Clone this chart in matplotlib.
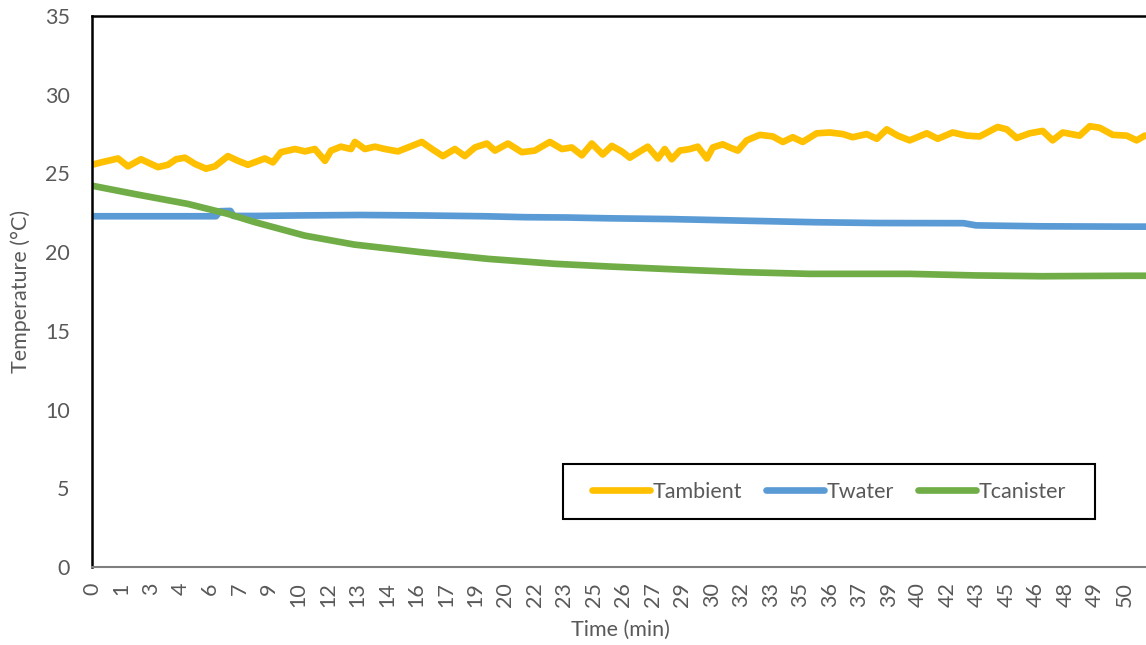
import matplotlib
matplotlib.use("Agg")
import matplotlib.pyplot as plt
from matplotlib.patches import Rectangle

plt.rcParams['font.family'] = ['Lato', 'DejaVu Sans']

# time (min) and temperatures
t_amb = [0, 0.44, 1.26, 1.74, 2.37, 3.19, 3.68, 4.07, 4.5, 4.99, 5.52, 5.95, 6.58, 7.07, 7.55, 8.37, 8.76,
         9.15, 9.83, 10.31, 10.79, 11.28, 11.57, 12.05, 12.54, 12.73, 13.21, 13.7, 14.18, 14.81, 15.3, 15.97,
         16.46, 16.99, 17.57, 18.05, 18.54, 19.12, 19.51, 20.14, 20.81, 21.44, 22.17, 22.75, 23.23, 23.72,
         24.2, 24.73, 25.17, 25.65, 26.04, 26.53, 26.91, 27.4, 27.73, 28.07, 28.46, 28.95, 29.33, 29.77,
         30.06, 30.54, 30.88, 31.27, 31.7, 32.33, 32.96, 33.45, 33.93, 34.41, 35.09, 35.72, 36.35, 36.83,
         37.51, 38.0, 38.48, 39.01, 39.59, 40.42, 40.95, 41.67, 42.35, 42.98, 43.85, 44.29, 44.77, 45.4,
         46.03, 46.51, 47.0, 47.82, 48.31, 48.79, 49.42, 50.1, 50.58, 50.97, 51.5]
T_ambient = [25.55, 25.7, 25.95, 25.45, 25.9, 25.4, 25.55, 25.9, 26.0, 25.6, 25.3, 25.45, 26.1, 25.8, 25.55,
             25.95, 25.7, 26.35, 26.55, 26.4, 26.55, 25.8, 26.45, 26.7, 26.55, 27.0, 26.55, 26.7, 26.55, 26.4,
             26.65, 27.0, 26.55, 26.1, 26.55, 26.1, 26.65, 26.9, 26.45, 26.9, 26.35, 26.45, 27.0, 26.55, 26.65,
             26.15, 26.9, 26.2, 26.75, 26.4, 26.0, 26.4, 26.7, 25.95, 26.55, 25.9, 26.45, 26.55, 26.7, 25.95,
             26.65, 26.85, 26.65, 26.45, 27.1, 27.45, 27.35, 27.0, 27.3, 27.0, 27.55, 27.6, 27.5, 27.3, 27.5,
             27.2, 27.8, 27.4, 27.1, 27.55, 27.2, 27.6, 27.4, 27.35, 27.95, 27.8, 27.25, 27.55, 27.7, 27.1,
             27.6, 27.4, 28.0, 27.9, 27.45, 27.4, 27.1, 27.4, 27.3]

t_wat = [0, 3, 6.0, 6.2, 6.7, 6.85, 8, 10, 13, 16, 19, 21, 23, 25, 28, 31.5, 35, 38, 42.2, 42.8, 46, 50.2, 51.5]
T_water = [22.28, 22.28, 22.28, 22.6, 22.62, 22.3, 22.3, 22.33, 22.36, 22.33, 22.28, 22.22, 22.2, 22.15,
           22.1, 22.0, 21.9, 21.85, 21.84, 21.7, 21.64, 21.62, 21.62]

t_can = [0, 2.23, 4.65, 6.58, 7.9, 10.3, 12.7, 15.9, 19.2, 22.4, 25.0, 28.3, 31.5, 34.75, 39.6, 42.8, 46, 50.2, 51.5]
T_canister = [24.22, 23.65, 23.06, 22.43, 21.9, 21.05, 20.48, 20.0, 19.57, 19.26, 19.09, 18.9, 18.73, 18.62,
              18.62, 18.52, 18.47, 18.5, 18.5]

xlabels = ['0', '1', '3', '4', '6', '7', '9', '10', '12', '13', '14', '16', '17', '19', '20', '22', '23', '25',
           '26', '27', '29', '30', '32', '33', '35', '36', '37', '39', '40', '42', '43', '45', '46', '48', '49', '50']

grey = '#595959'
fs = 15.5

fig = plt.figure(figsize=(11.46, 6.45), dpi=100)
W, H = 1146.0, 645.0
# plot area runs past the right edge of the picture, like the original crop
ax = fig.add_axes([92 / W, 78 / H, 1074 / W, 551 / H])

ax.plot(t_amb, T_ambient, color='#FFC000', lw=4.8, solid_capstyle='round', label='Tambient')
ax.plot(t_wat, T_water, color='#5B9BD5', lw=4.8, solid_capstyle='round', label='Twater')
ax.plot(t_can, T_canister, color='#70AD47', lw=4.8, solid_capstyle='round', label='Tcanister')

ax.set_xlim(0, 52)
ax.set_ylim(0, 35)
ax.set_yticks(range(0, 36, 5))
step = 50.0 / (len(xlabels) - 1)
ax.set_xticks([i * step for i in range(len(xlabels))])
ax.set_xticklabels(xlabels, rotation=90, va='top')
ax.tick_params(axis='y', length=0, pad=16, labelsize=fs, labelcolor=grey)
ax.tick_params(axis='x', length=0, pad=11, labelsize=fs, labelcolor=grey)

for s in ['left', 'top']:
    ax.spines[s].set_color('black')
    ax.spines[s].set_linewidth(1.8)
ax.spines['right'].set_visible(False)
ax.spines['bottom'].set_color('#7f7f7f')
ax.spines['bottom'].set_linewidth(1.5)

ax.set_ylabel('Temperature (°C)', fontsize=fs, color=grey)
ax.yaxis.set_label_coords((31 - 92) / 1074, 0.5)
ax.set_xlabel('Time (min)', fontsize=fs, color=grey)
ax.xaxis.set_label_coords((620 - 92) / 1074, (567 - 620) / 551)

# legend box
fig.patches.append(Rectangle((563 / W, (645 - 519) / H), 532 / W, 55 / H, transform=fig.transFigure,
                             fill=True, facecolor='white', edgecolor='black', lw=1.5, zorder=5))
leg = fig.legend(loc='center', bbox_to_anchor=(829 / W, (645 - 491.5) / H), ncol=3, frameon=False,
                 fontsize=fs, handlelength=2.7, handletextpad=0.12, columnspacing=1.1)
leg.set_zorder(6)
for txt in leg.get_texts():
    txt.set_color(grey)

fig.savefig('out.png', dpi=100)
